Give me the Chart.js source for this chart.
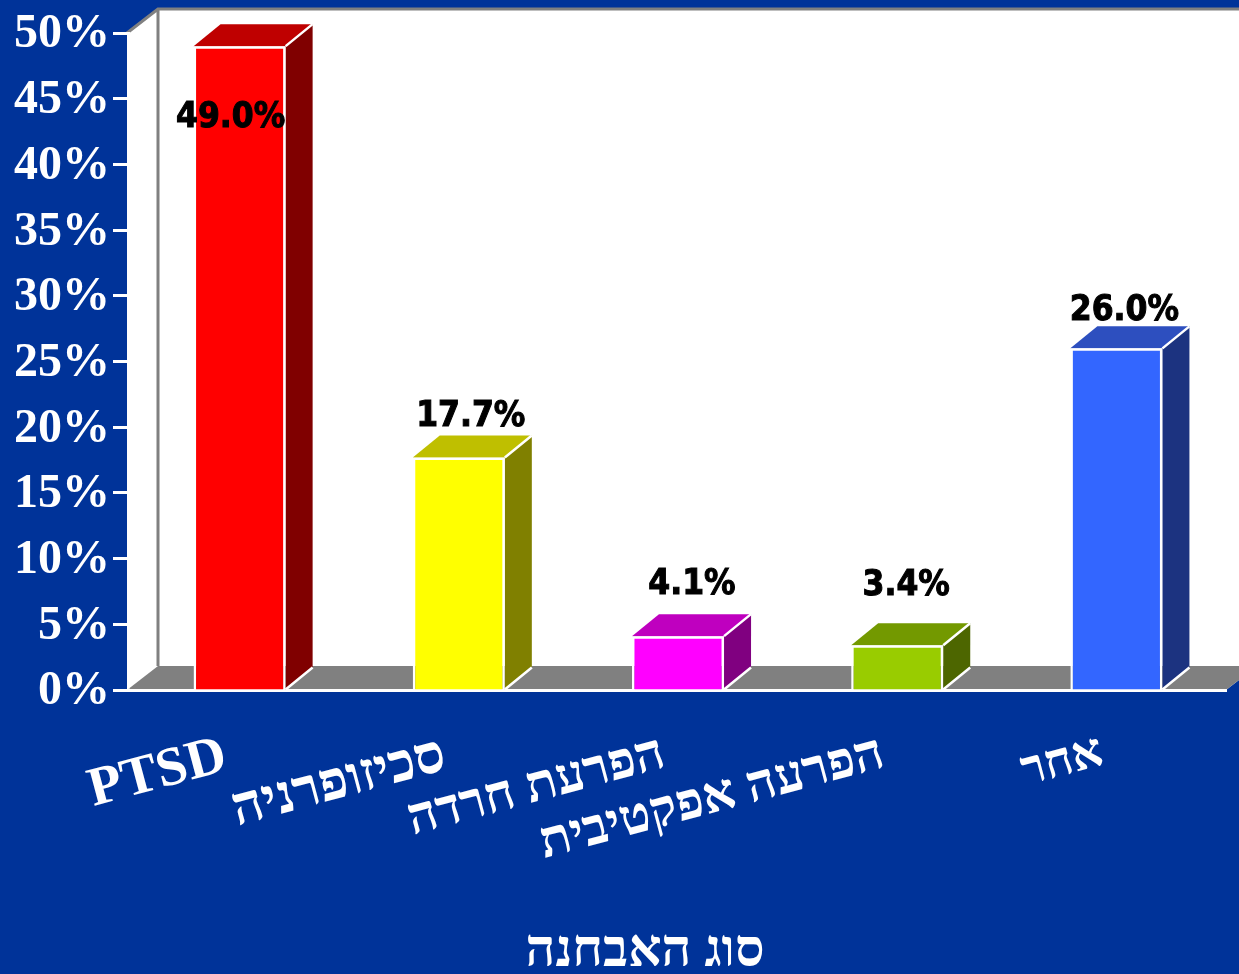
<!DOCTYPE html>
<html lang="he">
<head>
    <meta charset="UTF-8">
    <title>סוג האבחנה</title>
    <script src="https://cdnjs.cloudflare.com/ajax/libs/Chart.js/4.4.0/chart.umd.min.js"></script>
    <style>
        html, body { margin: 0; padding: 0; background: #003399; overflow: hidden; }
        canvas { display: block; }
    </style>
</head>
<body>
    <canvas id="graph" width="1239" height="974"></canvas>

    <script>
        // Data
        const categories = ['PTSD', 'סכיזופרניה', 'הפרעת חרדה', 'הפרעה אפקטיבית', 'אחר'];
        const values = [49.0, 17.7, 4.1, 3.4, 26.0];
        const valueLabels = ['49.0%', '17.7%', '4.1%', '3.4%', '26.0%'];
        const axisTitle = 'סוג האבחנה';

        // Colours of the bars: front, top and side face
        const frontColors = ['#FF0000', '#FFFF00', '#FF00FF', '#99CC00', '#3366FF'];
        const topColors = ['#BF0000', '#BFBF00', '#BF00BF', '#739900', '#2D4FBF'];
        const sideColors = ['#800000', '#808000', '#800080', '#4D6600', '#1C3380'];

        // Label position relative to the top of the front face
        const labelShiftX = [-9, 12, 14, 9, 8];
        const labelShiftY = [72, -41, -51, -59, -37];

        // Category label sizes, the installed font is not as wide as the original
        const categoryFontSizes = [55, 54, 51, 51, 48];

        const WALL_DX = 31, WALL_DY = -24;
        const BAR_DX = 27, BAR_DY = -22;
        const ROOM_LEFT = 3; // room starts a bit left of the first category
        const serif = '"Liberation Serif", serif';

        function poly(ctx, points, fill) {
            ctx.beginPath();
            points.forEach((p, i) => i ? ctx.lineTo(p[0], p[1]) : ctx.moveTo(p[0], p[1]));
            ctx.closePath();
            ctx.fillStyle = fill;
            ctx.fill();
        }

        // Back wall, left wall and floor
        const roomPlugin = {
            id: 'room',
            beforeDraw(chart) {
                const { ctx, chartArea: a } = chart;
                const left = a.left - ROOM_LEFT;
                const backL = left + WALL_DX, backR = a.right + WALL_DX;
                const backT = a.top + WALL_DY, backB = a.bottom + WALL_DY;
                poly(ctx, [[left, a.top], [backL, backT], [backR, backT], [backR, backB], [a.right, a.bottom], [left, a.bottom]], '#FFFFFF');
                poly(ctx, [[left, a.bottom], [backL, backB], [backR, backB], [a.right, a.bottom]], '#808080');

                ctx.beginPath();
                ctx.moveTo(left, a.top);
                ctx.lineTo(backL, backT);
                ctx.lineTo(backR, backT);
                ctx.moveTo(backL, backT);
                ctx.lineTo(backL, backB);
                ctx.strokeStyle = '#808080';
                ctx.lineWidth = 3;
                ctx.stroke();

                // The white base line reaches the left end of the room
                ctx.beginPath();
                ctx.moveTo(left, a.bottom);
                ctx.lineTo(a.left, a.bottom);
                ctx.strokeStyle = '#FFFFFF';
                ctx.stroke();
            }
        };

        // Top and side of each bar, the front comes from Chart.js itself
        const barFacesPlugin = {
            id: 'barFaces',
            beforeDatasetsDraw(chart) {
                const ctx = chart.ctx;
                chart.getDatasetMeta(0).data.forEach((bar, i) => {
                    const half = bar.width / 2;
                    const l = bar.x - half, r = bar.x + half, t = bar.y, b = bar.base;
                    poly(ctx, [[l, t], [l + BAR_DX, t + BAR_DY], [r + BAR_DX, t + BAR_DY], [r, t]], topColors[i]);
                    poly(ctx, [[r, t], [r + BAR_DX, t + BAR_DY], [r + BAR_DX, b + BAR_DY], [r, b]], sideColors[i]);
                    ctx.beginPath();
                    ctx.moveTo(r + BAR_DX, t + BAR_DY);
                    ctx.lineTo(r, t);
                    ctx.moveTo(r + BAR_DX, b + BAR_DY);
                    ctx.lineTo(r, b);
                    ctx.strokeStyle = '#FFFFFF';
                    ctx.lineWidth = 2.5;
                    ctx.stroke();
                });
            },
            afterDatasetsDraw(chart) {
                const ctx = chart.ctx;
                ctx.save();
                ctx.fillStyle = '#000000';
                ctx.strokeStyle = '#000000';
                ctx.lineWidth = 1;
                ctx.font = 'bold 35px "DejaVu Sans Condensed", "DejaVu Sans"';
                ctx.textAlign = 'center';
                ctx.textBaseline = 'middle';
                chart.getDatasetMeta(0).data.forEach((bar, i) => {
                    ctx.fillText(valueLabels[i], bar.x + labelShiftX[i], bar.y + labelShiftY[i]);
                    ctx.strokeText(valueLabels[i], bar.x + labelShiftX[i], bar.y + labelShiftY[i]);
                });

                // Axis title sits left of the plot centre in the picture
                ctx.fillStyle = '#FFFFFF';
                ctx.font = 'bold 52px ' + serif;
                ctx.fillText(axisTitle, 645, 953);
                ctx.restore();
            }
        };

        new Chart(document.getElementById('graph'), {
            type: 'bar',
            data: {
                labels: categories,
                datasets: [{
                    data: values,
                    backgroundColor: frontColors,
                    borderColor: '#FFFFFF',
                    borderWidth: 2.5,
                    barPercentage: 1,
                    categoryPercentage: 0.42
                }]
            },
            plugins: [roomPlugin, barFacesPlugin],
            options: {
                responsive: false,
                animation: false,
                layout: { padding: { top: 33, right: 13, left: 0, bottom: 0 } },
                plugins: {
                    legend: { display: false },
                    tooltip: { enabled: false }
                },
                scales: {
                    x: {
                        afterFit: s => { s.height = 284; },
                        grid: { display: false },
                        border: { display: true, color: '#FFFFFF', width: 3 },
                        ticks: {
                            color: '#FFFFFF',
                            font: c => ({ family: serif, weight: 'bold', size: categoryFontSizes[c.index] }),
                            autoSkip: false,
                            minRotation: 15,
                            maxRotation: 15,
                            labelOffset: -14,
                            padding: 26
                        }
                    },
                    y: {
                        afterFit: s => { s.width = 130; },
                        min: 0,
                        max: 50,
                        grid: { drawOnChartArea: false, color: '#FFFFFF', tickColor: '#FFFFFF', tickLength: 17, tickWidth: 3 },
                        border: { display: false },
                        ticks: {
                            stepSize: 5,
                            color: '#FFFFFF',
                            font: { family: serif, weight: 'bold', size: 48 },
                            padding: 3,
                            labelOffset: 2,
                            callback: v => v + '%'
                        }
                    }
                }
            }
        });
    </script>
</body>
</html>
